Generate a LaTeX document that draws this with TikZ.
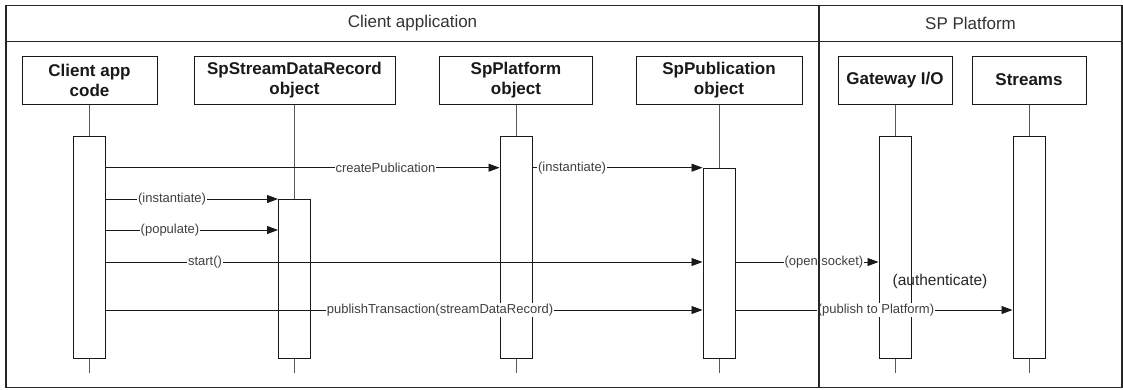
\documentclass[tikz,border=0pt]{standalone}
\usepackage{fontspec}
\setmainfont{Liberation Sans}
\usetikzlibrary{arrows.meta}
\begin{document}
\begin{tikzpicture}[x=1pt,y=-1pt,
  frameline/.style={draw=black!85, line width=1.2pt},
  headtext/.style={font=\fontsize{17}{20}\selectfont, text=black!80},
  headbox/.style={draw=black!90, line width=1pt, fill=white, minimum height=48pt, inner sep=0pt,
    font=\fontsize{17}{20}\selectfont\bfseries, text=black!90, align=center},
  actbar/.style={draw=black!90, line width=1pt, fill=white, minimum width=32pt, inner sep=0pt, anchor=north},
  life/.style={draw=black!65, line width=1pt},
  msg/.style={draw=black!90, line width=0.9pt, -{Triangle[length=11pt,width=8pt]}},
  lbl/.style={font=\fontsize{13}{15}\selectfont, text=black!75, fill=white, inner sep=1pt}
]
\useasboundingbox (0,0) rectangle (1123,389);
\fill[white] (0,0) rectangle (1123,389);

% frame
\draw[frameline] (6,5.5) rectangle (1122,387.5);
\draw[frameline] (6,41.5) -- (1122,41.5);
\node[headtext] (hca) at (412.5,23.5) {Client application};
\node[headtext] (hsp) at (970.5,23.5) {SP Platform};

% lifeline heads
\node[headbox, minimum width=135pt] (ca)  at (89.5,80)  {Client app\\code};
\node[headbox, minimum width=201pt] (sd)  at (294.5,80) {SpStreamDataRecord\\object};
\node[headbox, minimum width=153pt] (sp)  at (516,80)   {SpPlatform\\object};
\node[headbox, minimum width=166pt] (pub) at (719,80)   {SpPublication\\object};
\node[headbox, minimum width=114pt] (gw)  at (895,80)   {Gateway I/O};
\node[headbox, minimum width=114pt] (st)  at (1029,80)  {Streams};

% activation bars
\node[actbar, minimum height=222pt] (caA)  at (89.5,136)  {};
\node[actbar, minimum height=159pt] (sdA)  at (294.5,199) {};
\node[actbar, minimum height=222pt] (spA)  at (516,136)   {};
\node[actbar, minimum height=190pt] (pubA) at (719,168)   {};
\node[actbar, minimum height=222pt] (gwA)  at (895,136)   {};
\node[actbar, minimum height=222pt] (stA)  at (1029,136)  {};

% lifeline ends
\coordinate (caE)  at (89.5,373);
\coordinate (sdE)  at (294.5,373);
\coordinate (spE)  at (516,373);
\coordinate (pubE) at (719,373);
\coordinate (gwE)  at (895,373);
\coordinate (stE)  at (1029,373);

% lifelines
\draw[life] (ca.south) -- (caA.north);
\draw[life] (sd.south) -- (sdA.north);
\draw[life] (sp.south) -- (spA.north);
\draw[life] (pub.south) -- (pubA.north);
\draw[life] (gw.south) -- (gwA.north);
\draw[life] (st.south) -- (stA.north);
\draw[life] (caA.south) -- (caE);
\draw[life] (sdA.south) -- (sdE);
\draw[life] (spA.south) -- (spE);
\draw[life] (pubA.south) -- (pubE);
\draw[life] (gwA.south) -- (gwE);
\draw[life] (stA.south) -- (stE);

% messages
\draw[msg] (caA.east |- 0,167.7) -- node[lbl,pos=.71]{createPublication} (spA.west |- 0,167.7);
\draw[msg] (spA.east |- 0,167.7) -- node[lbl,pos=.233]{(instantiate)} (pubA.west |- 0,167.7);
\draw[msg] (caA.east |- 0,199) -- node[lbl,pos=.384]{(instantiate)} (sdA.west |- 0,199);
\draw[msg] (caA.east |- 0,230) -- node[lbl,pos=.372]{(populate)} (sdA.west |- 0,230);
\draw[msg] (caA.east |- 0,262) -- node[lbl,pos=.166]{start()} (pubA.west |- 0,262);
\draw[msg] (pubA.east |- 0,262) -- node[lbl,pos=.618]{(open socket)} (gwA.west |- 0,262);
\draw[msg] (caA.east |- 0,310) -- node[lbl,pos=.56]{publishTransaction(streamDataRecord)} (pubA.west |- 0,310);
\draw[msg] (pubA.east |- 0,310) -- node[lbl,pos=.507]{(publish to Platform)} (stA.west |- 0,310);

% divider on top
\draw[frameline] (819,5.5) -- (819,387.5);

\node[font=\fontsize{15.5}{18}\selectfont, text=black!85, inner sep=0pt] (auth) at (940,281) {(authenticate)};
\end{tikzpicture}
\end{document}
